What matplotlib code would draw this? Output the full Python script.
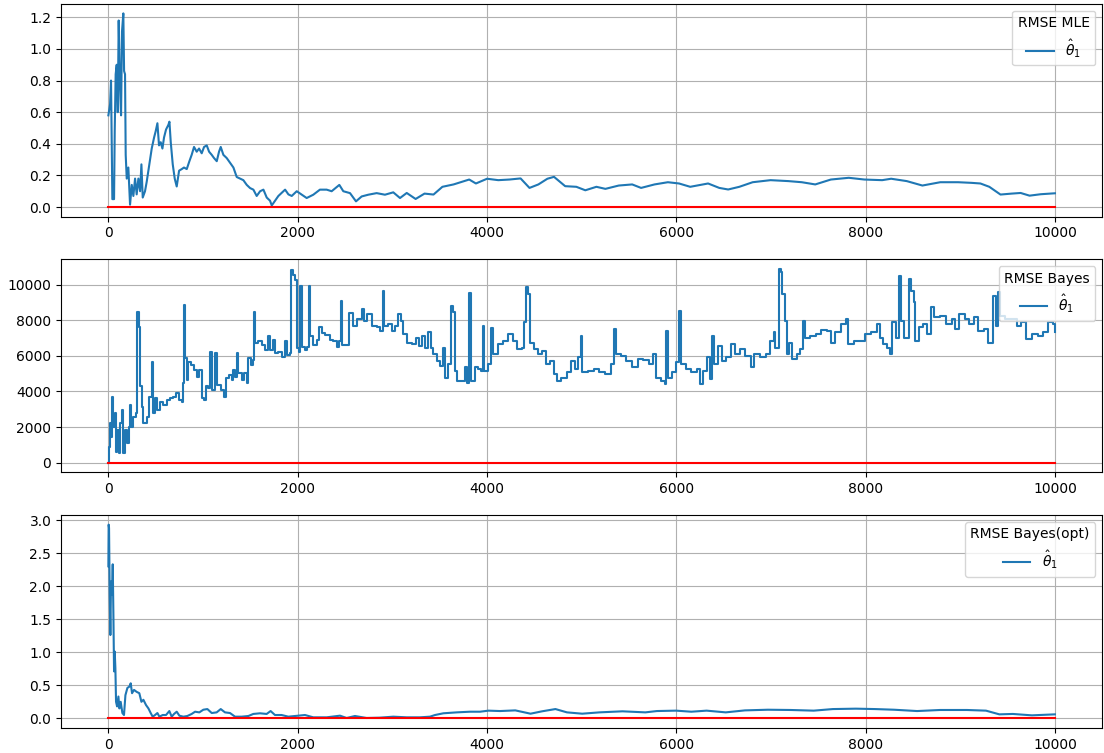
import numpy as np
from matplotlib import pyplot as plt

############################## values ##############################
steps_mle = [0, 18, 28, 35, 42, 60, 67, 77, 88, 99, 109, 123, 134, 144, 158, 166, 176, 183, 194, 211,
             229, 247, 264, 282, 299, 317, 335, 349, 363, 387, 405, 433, 458, 483, 500, 518, 535, 553,
             571, 588, 609, 634, 645, 659, 680, 701, 722, 747, 775, 799, 828, 856, 880, 905, 933, 958,
             986, 1011, 1039, 1064, 1092, 1116, 1145, 1169, 1187, 1215, 1250, 1286, 1321, 1356, 1391,
             1426, 1462, 1497, 1532, 1567, 1603, 1638, 1673, 1708, 1726, 1761, 1796, 1832, 1867, 1902,
             1937, 1990, 2095, 2165, 2235, 2306, 2359, 2440, 2482, 2553, 2616, 2676, 2746, 2834, 2922,
             3010, 3081, 3152, 3246, 3340, 3435, 3529, 3647, 3812, 3883, 4001, 4119, 4237, 4355, 4449,
             4543, 4638, 4708, 4826, 4944, 5039, 5156, 5251, 5392, 5534, 5628, 5770, 5911, 6029, 6147,
             6336, 6454, 6548, 6666, 6807, 6996, 7185, 7326, 7468, 7633, 7822, 7987, 8175, 8270, 8435,
             8600, 8789, 8977, 9119, 9213, 9307, 9425, 9543, 9638, 9732, 9850, 10000]
rmse_mle = [0.58, 0.65, 0.80, 0.44, 0.05, 0.05, 0.48, 0.84, 0.90, 0.60, 1.18, 0.75, 0.58, 1.11, 1.225,
            0.86, 0.84, 0.33, 0.18, 0.25, 0.015, 0.14, 0.07, 0.18, 0.08, 0.18, 0.10, 0.27, 0.06, 0.10,
            0.16, 0.27, 0.37, 0.44, 0.48, 0.53, 0.39, 0.41, 0.37, 0.44, 0.49, 0.52, 0.54, 0.41, 0.27,
            0.18, 0.13, 0.23, 0.24, 0.25, 0.24, 0.29, 0.33, 0.38, 0.35, 0.37, 0.34, 0.38, 0.39, 0.35,
            0.33, 0.31, 0.29, 0.35, 0.38, 0.33, 0.31, 0.28, 0.25, 0.19, 0.18, 0.17, 0.14, 0.12, 0.11,
            0.07, 0.10, 0.11, 0.06, 0.04, 0.01, 0.04, 0.07, 0.09, 0.11, 0.08, 0.07, 0.10, 0.057, 0.078,
            0.11, 0.11, 0.10, 0.14, 0.10, 0.088, 0.036, 0.067, 0.078, 0.088, 0.078, 0.093, 0.057, 0.089,
            0.051, 0.085, 0.079, 0.128, 0.143, 0.174, 0.149, 0.179, 0.170, 0.174, 0.181, 0.121, 0.143,
            0.179, 0.191, 0.132, 0.128, 0.106, 0.128, 0.115, 0.136, 0.143, 0.121, 0.143, 0.157, 0.149,
            0.128, 0.149, 0.121, 0.111, 0.128, 0.157, 0.170, 0.164, 0.157, 0.143, 0.174, 0.185, 0.174,
            0.170, 0.179, 0.164, 0.136, 0.157, 0.157, 0.153, 0.149, 0.128, 0.079, 0.085, 0.089, 0.072,
            0.081, 0.087]

steps_bayes = [0, 7, 18, 25, 39, 53, 67, 81, 95, 109, 123, 141, 158, 176, 194, 215, 229, 243, 264, 292,
               306, 320, 335, 352, 370, 405, 433, 458, 468, 493, 518, 546, 581, 616, 651, 687, 715, 750,
               775, 785, 799, 813, 827, 842, 870, 905, 933, 954, 986, 1011, 1032, 1056, 1074, 1095, 1127,
               1151, 1187, 1222, 1243, 1278, 1303, 1320, 1338, 1356, 1373, 1408, 1433, 1461, 1479, 1503,
               1525, 1539, 1553, 1584, 1620, 1655, 1690, 1708, 1736, 1761, 1796, 1831, 1866, 1884, 1919,
               1930, 1954, 1972, 1989, 2014, 2028, 2042, 2077, 2102, 2120, 2130, 2165, 2201, 2229, 2253,
               2289, 2342, 2377, 2412, 2440, 2454, 2468, 2518, 2546, 2588, 2623, 2676, 2701, 2729, 2782,
               2835, 2870, 2898, 2912, 2958, 2993, 3028, 3063, 3088, 3116, 3152, 3204, 3250, 3285, 3310,
               3345, 3380, 3405, 3433, 3475, 3503, 3539, 3556, 3592, 3616, 3644, 3666, 3680, 3733, 3768,
               3792, 3813, 3828, 3874, 3909, 3934, 3955, 3969, 4015, 4040, 4068, 4121, 4173, 4226, 4279,
               4321, 4367, 4392, 4408, 4428, 4452, 4501, 4541, 4582, 4622, 4663, 4703, 4743, 4784, 4845,
               4885, 4925, 4966, 4994, 5006, 5067, 5128, 5188, 5249, 5309, 5338, 5362, 5411, 5471, 5532,
               5592, 5653, 5714, 5754, 5787, 5835, 5876, 5896, 5916, 5956, 5997, 6029, 6049, 6098, 6159,
               6219, 6247, 6280, 6320, 6353, 6381, 6401, 6441, 6482, 6522, 6575, 6624, 6676, 6725, 6785,
               6826, 6886, 6947, 6987, 7028, 7048, 7080, 7109, 7121, 7149, 7169, 7190, 7218, 7270, 7311,
               7339, 7363, 7412, 7473, 7533, 7594, 7634, 7675, 7735, 7796, 7816, 7877, 7937, 7998, 8059,
               8119, 8148, 8180, 8221, 8253, 8281, 8321, 8350, 8374, 8402, 8455, 8483, 8511, 8524, 8564,
               8605, 8645, 8686, 8726, 8787, 8847, 8908, 8948, 8989, 9049, 9090, 9150, 9191, 9251, 9292,
               9320, 9344, 9373, 9401, 9425, 9474, 9534, 9595, 9644, 9696, 9757, 9817, 9878, 9926, 9979,
               10000]
rmse_bayes = [0, 900, 2210, 1460, 3710, 2030, 2780, 620, 1840, 525, 2210, 2960, 525, 1840, 1090, 2030,
              3240, 2030, 2590, 2780, 8440, 7650, 4280, 3150, 2210, 2590, 3710, 5680, 2780, 3620, 2960,
              3430, 3240, 3530, 3620, 3710, 3900, 3530, 3430, 4460, 8870, 5870, 4650, 5680, 5490, 5210,
              4840, 5210, 3620, 3530, 4280, 4180, 6240, 4090, 6150, 4370, 4090, 3710, 4740, 4930, 4650,
              5210, 4840, 6150, 5025, 4650, 5025, 4460, 5870, 5490, 5780, 8490, 6710, 6810, 6620, 6340,
              7120, 6340, 6900, 6150, 6240, 5960, 6810, 6060, 6150, 10840, 10560, 10280, 6430, 6240, 9900,
              6520, 6340, 6520, 9900, 7090, 6620, 6900, 7650, 7270, 7180, 6900, 6810, 6520, 6810, 9060,
              6620, 6620, 8400, 7690, 8070, 8630, 7970, 8350, 7690, 7600, 7410, 9660, 7690, 7790, 7410,
              7690, 8350, 7970, 7220, 6750, 6660, 7030, 6570, 7130, 6470, 7320, 6470, 6100, 5720, 5440,
              6470, 4780, 5530, 8820, 8440, 5160, 4600, 4600, 5350, 4500, 9510, 4600, 5350, 5250, 5160,
              7690, 5160, 5530, 7560, 6100, 6660, 6850, 7220, 6850, 6380, 6470, 7880, 9890, 9470, 6750,
              6380, 6100, 6280, 5530, 5720, 4970, 4600, 4780, 5070, 5720, 5250, 5910, 7130, 5070, 5160,
              5250, 5070, 4970, 5530, 7500, 6100, 6000, 5720, 5350, 5810, 5760, 5530, 6100, 4780, 4600,
              4410, 7370, 4780, 5070, 5630, 8540, 5530, 5250, 5070, 5250, 4410, 5160, 5910, 4690, 7130,
              5530, 6570, 5720, 5910, 6660, 6100, 6380, 6000, 5350, 6100, 5910, 6100, 6850, 7320, 6470,
              10880, 10690, 9470, 7970, 6100, 6750, 5810, 6100, 6380, 7970, 7030, 7130, 7220, 7450, 7410,
              6750, 7320, 7790, 8070, 6660, 6850, 6850, 7220, 7320, 7790, 7030, 6660, 6470, 6100, 7880,
              7030, 10510, 7970, 7030, 10320, 9660, 9000, 6850, 7600, 7790, 7220, 8720, 8160, 8250, 7790,
              8070, 7500, 8350, 8070, 7790, 8160, 7410, 7500, 6750, 6750, 9380, 7690, 9570, 8250, 8070,
              8070, 7690, 7880, 6940, 7220, 7130, 7320, 7880, 7790, 7320]

steps_opt = [0, 3, 7, 14, 21, 28, 39, 46, 53, 60, 67, 74, 81, 92, 106, 116, 130, 148, 165, 180, 201,
             222, 236, 250, 271, 299, 327, 349, 370, 398, 423, 447, 468, 493, 518, 539, 574, 609, 644,
             669, 694, 722, 750, 792, 834, 880, 916, 961, 1003, 1046, 1092, 1144, 1187, 1232, 1285,
             1338, 1408, 1479, 1531, 1602, 1672, 1714, 1760, 1830, 1901, 1971, 2077, 2165, 2306, 2447,
             2517, 2605, 2728, 2869, 3010, 3151, 3292, 3398, 3451, 3539, 3680, 3821, 3927, 4015, 4138,
             4299, 4460, 4582, 4723, 4845, 5006, 5188, 5431, 5673, 5795, 5997, 6159, 6320, 6522, 6725,
             6967, 7210, 7452, 7654, 7897, 8099, 8301, 8544, 8787, 9070, 9272, 9413, 9555, 9757, 10000]
rmse_opt = [2.30, 2.93, 2.88, 1.87, 1.26, 2.07, 1.87, 2.33, 1.57, 0.71, 1.01, 0.76, 0.25, 0.18, 0.33,
            0.15, 0.25, 0.08, 0.05, 0.35, 0.46, 0.48, 0.53, 0.38, 0.43, 0.40, 0.38, 0.25, 0.28, 0.20,
            0.15, 0.08, 0.025, 0.05, 0.08, 0.025, 0.05, 0.05, 0.11, 0.025, 0.066, 0.10, 0.04, 0.025,
            0.035, 0.066, 0.10, 0.09, 0.13, 0.14, 0.08, 0.09, 0.14, 0.09, 0.08, 0.025, 0.025, 0.035,
            0.066, 0.076, 0.066, 0.11, 0.05, 0.05, 0.025, 0.035, 0.05, 0.015, 0.015, 0.04, 0.005,
            0.035, 0.005, 0.01, 0.025, 0.015, 0.015, 0.025, 0.05, 0.076, 0.09, 0.10, 0.10, 0.116, 0.11,
            0.12, 0.07, 0.106, 0.14, 0.09, 0.07, 0.09, 0.106, 0.09, 0.11, 0.116, 0.10, 0.116, 0.09,
            0.12, 0.13, 0.126, 0.116, 0.14, 0.146, 0.14, 0.13, 0.11, 0.126, 0.126, 0.116, 0.06, 0.066,
            0.045, 0.06]

steps_true = [0, 10000]
true_error = [0, 0]

titles = ['RMSE MLE', 'RMSE Bayes', 'RMSE Bayes(opt)']
############################## values ##############################


fig, axes = plt.subplots(3, 1, figsize=(11.04, 7.53), dpi=100)
plt.subplots_adjust(left=0.0553, right=0.9984, top=0.9951, bottom=0.0332, hspace=0.2)

# Bayes curve jumps and then stays flat, so draw it as steps
styles = ['default', 'steps-post', 'default']

for ax, steps, rmse, title, ds in zip(axes, [steps_mle, steps_bayes, steps_opt],
                                      [rmse_mle, rmse_bayes, rmse_opt], titles, styles):
    ax.plot(steps, rmse, color='tab:blue', label=r'$\hat{\theta}_1$', drawstyle=ds)
    ax.plot(steps_true, true_error, color='r')
    ax.grid(True)
    ax.legend(title=title, loc='upper right')

plt.savefig('out.png', dpi=100)
